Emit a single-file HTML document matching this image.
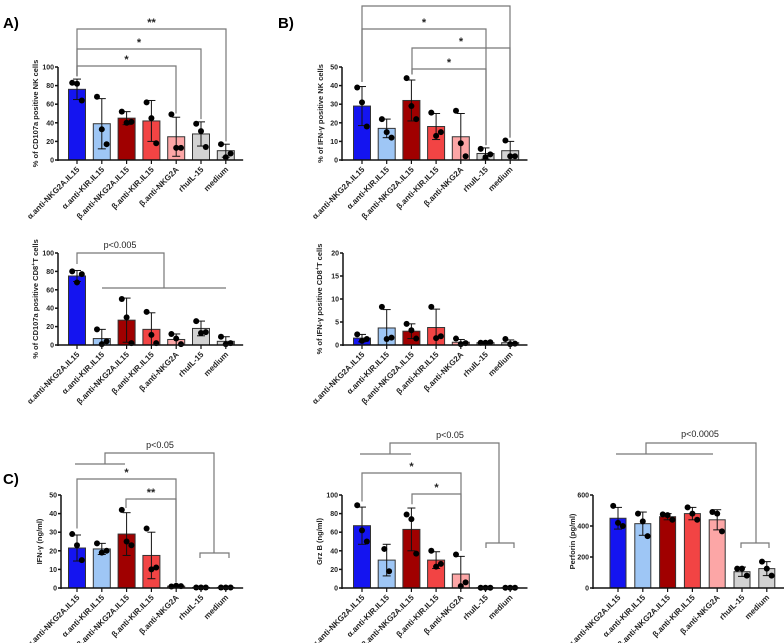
<!DOCTYPE html>
<html><head><meta charset="utf-8"><style>
html,body{margin:0;padding:0;background:#fff;width:784px;height:643px;overflow:hidden}
svg{display:block;font-family:"Liberation Sans",sans-serif}
</style></head><body>
<svg id="fig" width="784" height="643" viewBox="0 0 784 643">
<text x="3" y="28" font-size="15" font-weight="bold">A)</text>
<text x="278" y="28" font-size="15" font-weight="bold">B)</text>
<text x="3" y="484" font-size="15" font-weight="bold">C)</text>
</svg>
<script>
const categories=["α.anti-NKG2A.IL15","α.anti-KIR.IL15","β.anti-NKG2A.IL15","β.anti-KIR.IL15","β.anti-NKG2A","rhuIL-15","medium"];
const colors=["#1414f0","#9ec6f5","#a00000","#f24444","#fca6a6","#d2d2d2","#d2d2d2"];
const a1Means=[76,39,45,42,25,28,10];
const a1Err=[11,27,7,22,21,13,7];
const a1Points=[[83,82,64],[68,33,17],[52,40,41],[62,45,18],[49,13,13],[39,31,14],[17,3,7]];
const a2Means=[75,7,27,17,6,18,4];
const a2Err=[6,10,24,18,6,8,5];
const a2Points=[[80,68,77],[17,1,4],[50,30,2],[36,11,2],[12,7,1],[26,13,14],[9,1,2]];
const b1Means=[29,17,32,18,12.5,3.5,5];
const b1Err=[10.5,5,11,7,12.5,3,5];
const b1Points=[[39,31,18],[22,15,12],[44,29,22],[25.5,13,15],[26.5,9,2],[6,1.5,3],[10.5,2,2]];
const b2Means=[1.5,3.7,3.0,3.8,0.6,0.5,0.5];
const b2Err=[0.8,4,1.6,4,0.6,0.1,0.6];
const b2Points=[[2.3,0.9,1.3],[8.3,1.3,1.6],[4.6,3.2,1.4],[8.3,1.5,1.9],[1.4,0.2,0.4],[0.5,0.5,0.6],[1.3,0.2,0.3]];
const c1Means=[21.5,21,29,17.5,1,0.3,0.3];
const c1Err=[7,3,11.5,12.5,0.3,0.1,0.1];
const c1Points=[[29,23,15],[24,19,20],[42,25,23],[32,10,11],[0.8,1.2,1],[0.3,0.3,0.3],[0.3,0.3,0.3]];
const c2Means=[67,30,63,30,15,0.3,0.3];
const c2Err=[20,17,23,9,19,0.1,0.1];
const c2Points=[[89,62,50],[42,18],[79,74,37],[40,23,26],[36,2,6],[0.3,0.3,0.3],[0.3,0.3,0.3]];
const c3Means=[450,415,460,480,440,105,125];
const c3Err=[70,75,20,40,65,30,45];
const c3Points=[[530,420,400],[480,430,335],[475,470,440],[520,480,440],[490,480,365],[125,125,80],[170,125,80]];
const ticksA1=[0,20,40,60,80,100],ticksA2=[0,20,40,60,80,100],ticksB1=[0,10,20,30,40,50],ticksB2=[0,5,10,15,20],ticksC1=[0,10,20,30,40,50],ticksC2=[0,20,40,60,80,100],ticksC3=[0,200,400,600];

const svg=document.getElementById('fig');const NS='http://www.w3.org/2000/svg';
function mk(tag,attrs,parent){const e=document.createElementNS(NS,tag);for(const k in attrs)e.setAttribute(k,attrs[k]);(parent||svg).appendChild(e);return e;}
function line(g,x1,y1,x2,y2,c,w){return mk('line',{x1,y1,x2,y2,stroke:c||'#222','stroke-width':w||1},g);}

function panel(id,o,means,err,points,ticks){
 const g=mk('g',{});
 
 
 const max=ticks[ticks.length-1];
 const y=v=>o.y0-(v/max)*(o.y0-o.yTop);
 const x=i=>o.x0+i*o.step;
 means.forEach((m,i)=>{
  const b=mk('rect',{x:x(i)-o.bw/2,y:y(m),width:o.bw,height:o.y0-y(m),fill:colors[i],stroke:'#333','stroke-width':1},g);
  
  
  const e1=y(m+err[i]),e2=y(Math.max(0,m-err[i]));
  line(g,x(i),e1,x(i),e2,'#111');line(g,x(i)-4,e1,x(i)+4,e1,'#111');line(g,x(i)-4,e2,x(i)+4,e2,'#111');
  const pts=points[i];const offs=pts.length===3?[-4,0,4]:[-2,2];
  pts.forEach((p,j)=>{const d=mk('circle',{cx:x(i)+offs[j]*1.2,cy:y(p),r:3,fill:'#000'},g);
   
   });
 });
 line(g,o.ax,o.yTop,o.ax,o.y0+1,'#111',1.5);
 ticks.forEach(t=>{line(g,o.ax-3,y(t),o.ax,y(t),'#111',1.5);
  const tx=mk('text',{x:o.ax-4,y:y(t)+2.5,'font-size':7,'font-weight':'bold','text-anchor':'end',fill:'#222'},g);tx.textContent=t;
  
  });
 line(g,o.ax,o.y0,x(6)+o.step*0.7,o.y0,'#111',1.5);
 categories.forEach((c,i)=>{line(g,x(i),o.y0,x(i),o.y0+4,'#111',1.2);
  const tx=mk('text',{x:x(i)+3,y:o.y0+10,'font-size':8,'font-weight':'bold','text-anchor':'end',fill:'#222',transform:`rotate(-45 ${x(i)+3} ${o.y0+10})`},g);tx.textContent=c;
  
  });
 const yl=mk('text',{x:0,y:0,'font-size':7.5,'font-weight':'bold','text-anchor':'middle',fill:'#222',transform:`translate(${o.ylx},${(o.y0+o.yTop)/2}) rotate(-90)`},g);
 yl.innerHTML=o.ylab;
 
 
 return {g,x,y};
}
function sig(g,x1,x2,yy,label,drop1,drop2){
 const s=mk('path',{d:`M${x1},${drop1} V${yy} H${x2} V${drop2}`,fill:'none',stroke:'#777','stroke-width':1.2},g);
 
 
 const t=mk('text',{x:(x1+x2)/2,y:yy-3,'font-size':11,'font-weight':'bold','text-anchor':'middle',fill:'#222'},g);t.textContent=label;
 
 
}
function groupSig(g,gx1,gx2,gy,cx,topY,rx,bx1,bx2,by,label,lx,ly){
 const p=mk('path',{d:`M${gx1},${gy} H${gx2} M${cx},${gy} V${topY} H${rx} V${by} M${bx1},${by+5} V${by} H${bx2} V${by+5}`,fill:'none',stroke:'#777','stroke-width':1.2},g);
 
 
 const t=mk('text',{x:lx,y:ly,'font-size':9,'text-anchor':'middle',fill:'#222'},g);t.textContent=label;
 
 
}
let p;
p=panel('a1',{x0:77,step:24.8,bw:17,ax:58,y0:160,yTop:67,ylx:38,ylab:'% of CD107a positive NK cells'},a1Means,a1Err,a1Points,ticksA1);
sig(p.g,77,176,66,'*',p.y(90),p.y(50));sig(p.g,77,201,49,'*',p.y(90),p.y(44));sig(p.g,77,226,29,'**',p.y(90),p.y(20));
p=panel('a2',{x0:77,step:24.8,bw:17,ax:58,y0:345,yTop:253,ylx:38,ylab:'% of CD107a positive CD8<tspan font-size="5.5" dy="-3">+</tspan><tspan dy="3">T cells</tspan>'},a2Means,a2Err,a2Points,ticksA2);
{const q=mk('path',{d:'M77,264 V253 H164 V288 M102,288 H226',fill:'none',stroke:'#777','stroke-width':1.2},p.g);
const t=mk('text',{x:120,y:248,'font-size':9,'text-anchor':'middle',fill:'#222'},p.g);t.textContent='p<0.005';}
p=panel('b1',{x0:362,step:24.7,bw:17,ax:342,y0:160,yTop:67,ylx:323,ylab:'% of IFN-γ positive NK cells'},b1Means,b1Err,b1Points,ticksB1);
sig(p.g,412,486,69,'*',p.y(46),p.y(8));sig(p.g,412,510,48,'*',p.y(46),p.y(12));sig(p.g,362,486,29,'*',p.y(42),p.y(8));sig(p.g,362,510,6,'*',p.y(42),p.y(12));
p=panel('b2',{x0:362,step:24.7,bw:17,ax:343,y0:345,yTop:253,ylx:322,ylab:'% of IFN-γ positive CD8<tspan font-size="5.5" dy="-3">+</tspan><tspan dy="3">T cells</tspan>'},b2Means,b2Err,b2Points,ticksB2);
p=panel('c1',{x0:77,step:24.8,bw:17,ax:61,y0:588,yTop:495,ylx:42,ylab:'IFN-γ (ng/ml)'},c1Means,c1Err,c1Points,ticksC1);
sig(p.g,77,176,479,'*',p.y(32),p.y(3));sig(p.g,126,176,499,'**',p.y(43),p.y(3));
groupSig(p.g,75,125,464,105,453,214,200,229,553,'p<0.05',160,448);
p=panel('c2',{x0:362,step:24.7,bw:17,ax:342,y0:588,yTop:495,ylx:322,ylab:'Grz B (ng/ml)'},c2Means,c2Err,c2Points,ticksC2);
sig(p.g,362,461,473,'*',p.y(93),p.y(40));sig(p.g,412,461,494,'*',p.y(90),p.y(40));
groupSig(p.g,360,411,454,390,443,499,486,514,543,'p<0.05',450,438);
p=panel('c3',{x0:618,step:24.8,bw:16,ax:593,y0:588,yTop:495,ylx:575,ylab:'Perforin (pg/ml)'},c3Means,c3Err,c3Points,ticksC3);
groupSig(p.g,616,713,454,646,443,756,741,769,543,'p<0.0005',700,437);
</script>
</body></html>
